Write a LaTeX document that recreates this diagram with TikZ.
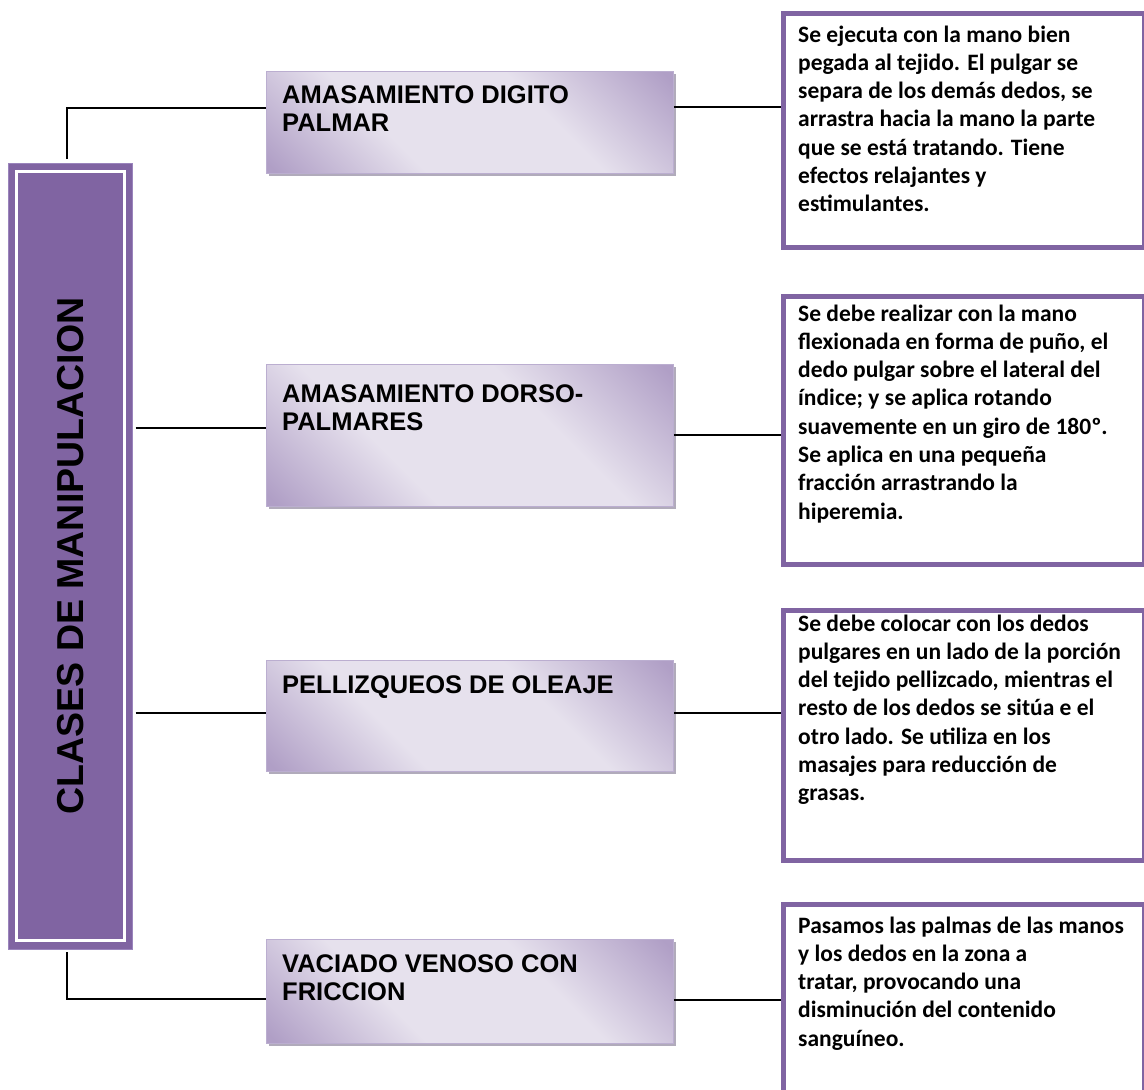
\documentclass[tikz,border=0pt]{standalone}
\usepackage{fontspec}
\newfontfamily\headfont{Liberation Sans}
\newfontfamily\bodyfont{Carlito}
\usetikzlibrary{shadows}

\definecolor{barpurple}{HTML}{8064A2}
\definecolor{barrim}{HTML}{9A84BC}
\definecolor{sheendark}{HTML}{B09FC6}
\definecolor{sheenlight}{HTML}{E6E1ED}
\definecolor{boxrim}{HTML}{BBAED0}
\definecolor{boxshade}{HTML}{9E96AA}

% soft diagonal sheen used by the technique boxes
\pgfdeclarehorizontalshading{sheen}{100bp}{%
  color(0bp)=(sheendark); color(16bp)=(sheendark);
  color(37bp)=(sheenlight); color(62bp)=(sheenlight);
  color(84bp)=(sheendark); color(100bp)=(sheendark)}

\tikzset{
  conn/.style={draw=black, line width=1.2pt},
  titlebar/.style={rectangle, fill=barpurple, draw=barrim, line width=1pt,
    minimum width=124, minimum height=786, inner sep=0pt},
  titlerim/.style={rectangle, draw=white, line width=3pt,
    minimum width=107.5, minimum height=768.5, inner sep=0pt},
  titletext/.style={rotate=90, inner sep=0pt,
    font=\headfont\bfseries\fontsize{37.5}{40}\selectfont},
  midbox/.style={rectangle, draw=boxrim, line width=0.8pt, shading=sheen,
    shading angle=45, minimum width=407, inner sep=0pt, anchor=north west,
    drop shadow={shadow xshift=3pt, shadow yshift=-3pt, fill=boxshade, opacity=0.8}},
  midtext/.style={anchor=base west, inner sep=0pt,
    font=\headfont\bfseries\fontsize{25.5}{28}\selectfont},
  notebox/.style={rectangle, draw=barpurple, line width=5pt, fill=white,
    minimum width=361.5, inner sep=0pt, anchor=north west},
  notetext/.style={anchor=base west, inner sep=0pt,
    font=\bodyfont\bfseries\fontsize{23.5}{28.3}\selectfont},
}

\begin{document}
\begin{tikzpicture}[x=1pt, y=-1pt]
  \useasboundingbox (0,0) rectangle (1144,1090);
  \clip (0,0) rectangle (1144,1090);

  % title bar
  \node[titlebar] (bar) at (70,556) {};
  \node[titlerim] (barrim) at (70.25,555.75) {};
  \node[titletext] (bartext) at (71,556) {CLASES DE MANIPULACION};

  % technique boxes
  \node[midbox, minimum height=102] (m1) at (266,71) {};
  \node[midbox, minimum height=142] (m2) at (266,364) {};
  \node[midbox, minimum height=111] (m3) at (266,660) {};
  \node[midbox, minimum height=104] (m4) at (266,939) {};

  \node[midtext] (m1t) at (282,103) {\begin{tabular}[t]{@{}l@{}}AMASAMIENTO DIGITO\\PALMAR\end{tabular}};
  \node[midtext] (m2t) at (282,402) {\begin{tabular}[t]{@{}l@{}}AMASAMIENTO DORSO-\\PALMARES\end{tabular}};
  \node[midtext] (m3t) at (282,693) {\begin{tabular}[t]{@{}l@{}}PELLIZQUEOS DE OLEAJE\end{tabular}};
  \node[midtext] (m4t) at (282,972) {\begin{tabular}[t]{@{}l@{}}VACIADO VENOSO CON\\FRICCION\end{tabular}};

  % description boxes
  \node[notebox, minimum height=234.5] (r1) at (780.5,10.5) {};
  \node[notebox, minimum height=267.5] (r2) at (780.5,294) {};
  \node[notebox, minimum height=250] (r3) at (780.5,607.5) {};
  \node[notebox, minimum height=260] (r4) at (780.5,901.5) {};

  \node[notetext] (r1t) at (798,42) {\begin{tabular}[t]{@{}l@{}}
    Se ejecuta con la mano bien\\
    pegada al tejido. El pulgar se\\
    separa de los demás dedos, se\\
    arrastra hacia la mano la parte\\
    que se está tratando. Tiene\\
    efectos relajantes y\\
    estimulantes.\end{tabular}};
  \node[notetext] (r2t) at (798,321) {\begin{tabular}[t]{@{}l@{}}
    Se debe realizar con la mano\\
    flexionada en forma de puño, el\\
    dedo pulgar sobre el lateral del\\
    índice; y se aplica rotando\\
    suavemente en un giro de 180º.\\
    Se aplica en una pequeña\\
    fracción arrastrando la\\
    hiperemia.\end{tabular}};
  \node[notetext] (r3t) at (798,631) {\begin{tabular}[t]{@{}l@{}}
    Se debe colocar con los dedos\\
    pulgares en un lado de la porción\\
    del tejido pellizcado, mientras el\\
    resto de los dedos se sitúa e el\\
    otro lado. Se utiliza en los\\
    masajes para reducción de\\
    grasas.\end{tabular}};
  \node[notetext] (r4t) at (798,933) {\begin{tabular}[t]{@{}l@{}}
    Pasamos las palmas de las manos\\
    y los dedos en la zona a\\
    tratar, provocando una\\
    disminución del contenido\\
    sanguíneo.\end{tabular}};

  % junction points of the connectors
  \coordinate (top) at (67,159);
  \coordinate (bot) at (67,952);
  \coordinate (j1) at (0,108);
  \coordinate (j2) at (0,428);
  \coordinate (j3) at (0,713);
  \coordinate (j4) at (0,999);
  \coordinate (k1) at (0,107);
  \coordinate (k2) at (0,435);
  \coordinate (k3) at (0,713);
  \coordinate (k4) at (0,1000);

  % bar to technique boxes
  \draw[conn] (top) |- (m1.west |- j1);
  \draw[conn] ([xshift=3pt]bar.east |- j2) -- (m2.west |- j2);
  \draw[conn] ([xshift=3pt]bar.east |- j3) -- (m3.west |- j3);
  \draw[conn] (bot) |- (m4.west |- j4);

  % technique boxes to descriptions
  \draw[conn] (m1.east |- k1) -- (r1.west |- k1);
  \draw[conn] (m2.east |- k2) -- (r2.west |- k2);
  \draw[conn] (m3.east |- k3) -- (r3.west |- k3);
  \draw[conn] (m4.east |- k4) -- (r4.west |- k4);
\end{tikzpicture}
\end{document}
